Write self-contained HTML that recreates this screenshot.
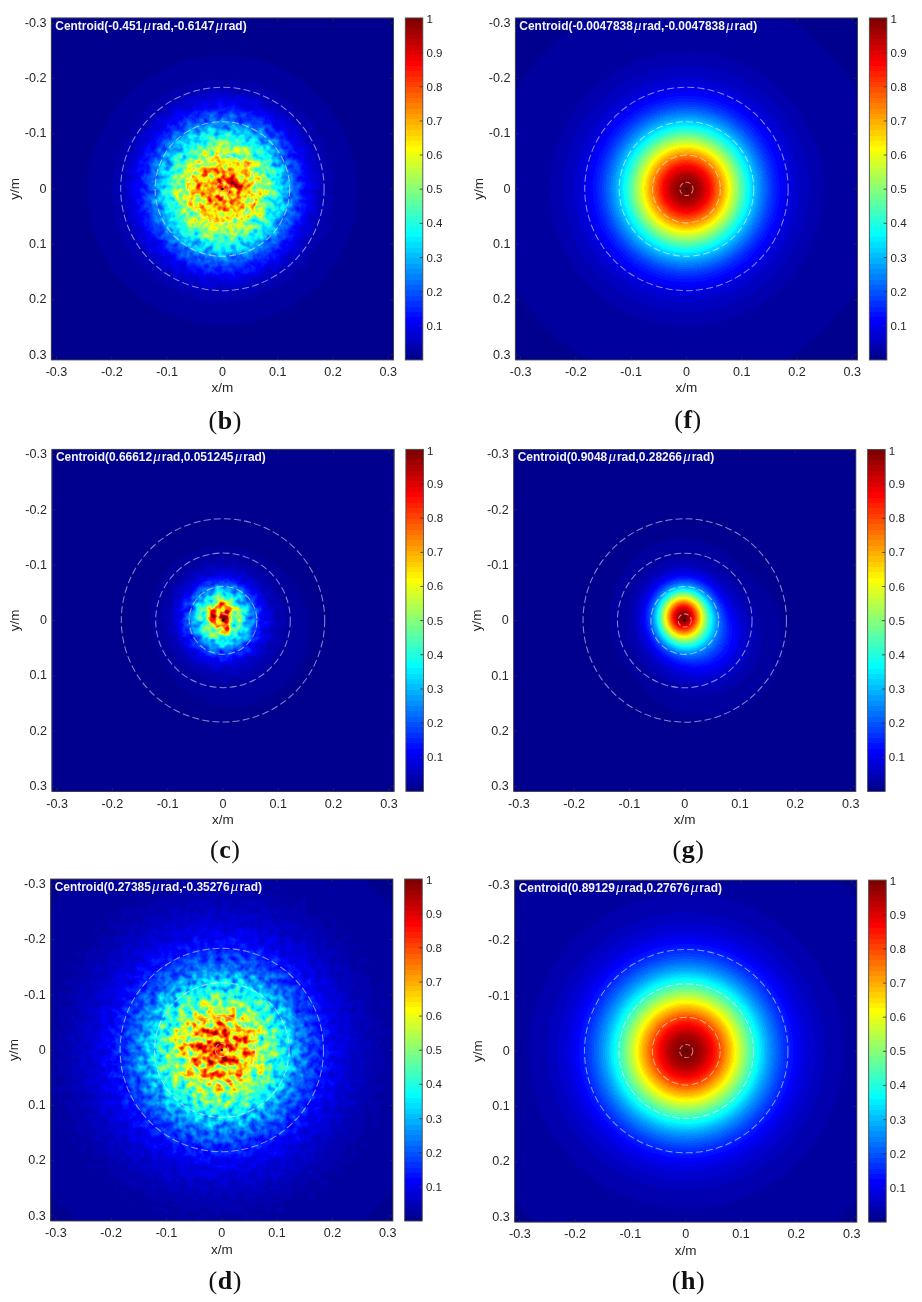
<!DOCTYPE html>
<html><head><meta charset="utf-8"><title>Figure</title>
<style>
html,body{margin:0;padding:0;background:#fff;}
svg{display:block;}
text{font-family:"Liberation Sans",sans-serif;}
.tk{font-size:12.6px;fill:#262626;}
.ck{font-size:11.5px;fill:#262626;}
.lb{font-size:13.5px;fill:#262626;}
.ti{font-size:11.94px;font-weight:bold;fill:#f4f4f4;}
.mu{font-family:"Liberation Serif","DejaVu Serif",serif;font-style:italic;font-weight:normal;font-size:15px;}
.cap{font-family:"Liberation Serif",serif;font-size:26px;fill:#111;letter-spacing:0.5px;}
.cap tspan{font-weight:bold;}
</style></head><body>
<svg width="922" height="1302" viewBox="0 0 922 1302">
<defs>
<linearGradient id="cb" x1="0" y1="1" x2="0" y2="0">
<stop offset="0.0000" stop-color="rgb(0,0,143)"/><stop offset="0.0156" stop-color="rgb(0,0,143)"/>
<stop offset="0.0156" stop-color="rgb(0,0,159)"/><stop offset="0.0312" stop-color="rgb(0,0,159)"/>
<stop offset="0.0312" stop-color="rgb(0,0,175)"/><stop offset="0.0469" stop-color="rgb(0,0,175)"/>
<stop offset="0.0469" stop-color="rgb(0,0,191)"/><stop offset="0.0625" stop-color="rgb(0,0,191)"/>
<stop offset="0.0625" stop-color="rgb(0,0,207)"/><stop offset="0.0781" stop-color="rgb(0,0,207)"/>
<stop offset="0.0781" stop-color="rgb(0,0,223)"/><stop offset="0.0938" stop-color="rgb(0,0,223)"/>
<stop offset="0.0938" stop-color="rgb(0,0,239)"/><stop offset="0.1094" stop-color="rgb(0,0,239)"/>
<stop offset="0.1094" stop-color="rgb(0,0,255)"/><stop offset="0.1250" stop-color="rgb(0,0,255)"/>
<stop offset="0.1250" stop-color="rgb(0,16,255)"/><stop offset="0.1406" stop-color="rgb(0,16,255)"/>
<stop offset="0.1406" stop-color="rgb(0,32,255)"/><stop offset="0.1562" stop-color="rgb(0,32,255)"/>
<stop offset="0.1562" stop-color="rgb(0,48,255)"/><stop offset="0.1719" stop-color="rgb(0,48,255)"/>
<stop offset="0.1719" stop-color="rgb(0,64,255)"/><stop offset="0.1875" stop-color="rgb(0,64,255)"/>
<stop offset="0.1875" stop-color="rgb(0,80,255)"/><stop offset="0.2031" stop-color="rgb(0,80,255)"/>
<stop offset="0.2031" stop-color="rgb(0,96,255)"/><stop offset="0.2188" stop-color="rgb(0,96,255)"/>
<stop offset="0.2188" stop-color="rgb(0,112,255)"/><stop offset="0.2344" stop-color="rgb(0,112,255)"/>
<stop offset="0.2344" stop-color="rgb(0,128,255)"/><stop offset="0.2500" stop-color="rgb(0,128,255)"/>
<stop offset="0.2500" stop-color="rgb(0,143,255)"/><stop offset="0.2656" stop-color="rgb(0,143,255)"/>
<stop offset="0.2656" stop-color="rgb(0,159,255)"/><stop offset="0.2812" stop-color="rgb(0,159,255)"/>
<stop offset="0.2812" stop-color="rgb(0,175,255)"/><stop offset="0.2969" stop-color="rgb(0,175,255)"/>
<stop offset="0.2969" stop-color="rgb(0,191,255)"/><stop offset="0.3125" stop-color="rgb(0,191,255)"/>
<stop offset="0.3125" stop-color="rgb(0,207,255)"/><stop offset="0.3281" stop-color="rgb(0,207,255)"/>
<stop offset="0.3281" stop-color="rgb(0,223,255)"/><stop offset="0.3438" stop-color="rgb(0,223,255)"/>
<stop offset="0.3438" stop-color="rgb(0,239,255)"/><stop offset="0.3594" stop-color="rgb(0,239,255)"/>
<stop offset="0.3594" stop-color="rgb(0,255,255)"/><stop offset="0.3750" stop-color="rgb(0,255,255)"/>
<stop offset="0.3750" stop-color="rgb(16,255,239)"/><stop offset="0.3906" stop-color="rgb(16,255,239)"/>
<stop offset="0.3906" stop-color="rgb(32,255,223)"/><stop offset="0.4062" stop-color="rgb(32,255,223)"/>
<stop offset="0.4062" stop-color="rgb(48,255,207)"/><stop offset="0.4219" stop-color="rgb(48,255,207)"/>
<stop offset="0.4219" stop-color="rgb(64,255,191)"/><stop offset="0.4375" stop-color="rgb(64,255,191)"/>
<stop offset="0.4375" stop-color="rgb(80,255,175)"/><stop offset="0.4531" stop-color="rgb(80,255,175)"/>
<stop offset="0.4531" stop-color="rgb(96,255,159)"/><stop offset="0.4688" stop-color="rgb(96,255,159)"/>
<stop offset="0.4688" stop-color="rgb(112,255,143)"/><stop offset="0.4844" stop-color="rgb(112,255,143)"/>
<stop offset="0.4844" stop-color="rgb(128,255,128)"/><stop offset="0.5000" stop-color="rgb(128,255,128)"/>
<stop offset="0.5000" stop-color="rgb(143,255,112)"/><stop offset="0.5156" stop-color="rgb(143,255,112)"/>
<stop offset="0.5156" stop-color="rgb(159,255,96)"/><stop offset="0.5312" stop-color="rgb(159,255,96)"/>
<stop offset="0.5312" stop-color="rgb(175,255,80)"/><stop offset="0.5469" stop-color="rgb(175,255,80)"/>
<stop offset="0.5469" stop-color="rgb(191,255,64)"/><stop offset="0.5625" stop-color="rgb(191,255,64)"/>
<stop offset="0.5625" stop-color="rgb(207,255,48)"/><stop offset="0.5781" stop-color="rgb(207,255,48)"/>
<stop offset="0.5781" stop-color="rgb(223,255,32)"/><stop offset="0.5938" stop-color="rgb(223,255,32)"/>
<stop offset="0.5938" stop-color="rgb(239,255,16)"/><stop offset="0.6094" stop-color="rgb(239,255,16)"/>
<stop offset="0.6094" stop-color="rgb(255,255,0)"/><stop offset="0.6250" stop-color="rgb(255,255,0)"/>
<stop offset="0.6250" stop-color="rgb(255,239,0)"/><stop offset="0.6406" stop-color="rgb(255,239,0)"/>
<stop offset="0.6406" stop-color="rgb(255,223,0)"/><stop offset="0.6562" stop-color="rgb(255,223,0)"/>
<stop offset="0.6562" stop-color="rgb(255,207,0)"/><stop offset="0.6719" stop-color="rgb(255,207,0)"/>
<stop offset="0.6719" stop-color="rgb(255,191,0)"/><stop offset="0.6875" stop-color="rgb(255,191,0)"/>
<stop offset="0.6875" stop-color="rgb(255,175,0)"/><stop offset="0.7031" stop-color="rgb(255,175,0)"/>
<stop offset="0.7031" stop-color="rgb(255,159,0)"/><stop offset="0.7188" stop-color="rgb(255,159,0)"/>
<stop offset="0.7188" stop-color="rgb(255,143,0)"/><stop offset="0.7344" stop-color="rgb(255,143,0)"/>
<stop offset="0.7344" stop-color="rgb(255,128,0)"/><stop offset="0.7500" stop-color="rgb(255,128,0)"/>
<stop offset="0.7500" stop-color="rgb(255,112,0)"/><stop offset="0.7656" stop-color="rgb(255,112,0)"/>
<stop offset="0.7656" stop-color="rgb(255,96,0)"/><stop offset="0.7812" stop-color="rgb(255,96,0)"/>
<stop offset="0.7812" stop-color="rgb(255,80,0)"/><stop offset="0.7969" stop-color="rgb(255,80,0)"/>
<stop offset="0.7969" stop-color="rgb(255,64,0)"/><stop offset="0.8125" stop-color="rgb(255,64,0)"/>
<stop offset="0.8125" stop-color="rgb(255,48,0)"/><stop offset="0.8281" stop-color="rgb(255,48,0)"/>
<stop offset="0.8281" stop-color="rgb(255,32,0)"/><stop offset="0.8438" stop-color="rgb(255,32,0)"/>
<stop offset="0.8438" stop-color="rgb(255,16,0)"/><stop offset="0.8594" stop-color="rgb(255,16,0)"/>
<stop offset="0.8594" stop-color="rgb(255,0,0)"/><stop offset="0.8750" stop-color="rgb(255,0,0)"/>
<stop offset="0.8750" stop-color="rgb(239,0,0)"/><stop offset="0.8906" stop-color="rgb(239,0,0)"/>
<stop offset="0.8906" stop-color="rgb(223,0,0)"/><stop offset="0.9062" stop-color="rgb(223,0,0)"/>
<stop offset="0.9062" stop-color="rgb(207,0,0)"/><stop offset="0.9219" stop-color="rgb(207,0,0)"/>
<stop offset="0.9219" stop-color="rgb(191,0,0)"/><stop offset="0.9375" stop-color="rgb(191,0,0)"/>
<stop offset="0.9375" stop-color="rgb(175,0,0)"/><stop offset="0.9531" stop-color="rgb(175,0,0)"/>
<stop offset="0.9531" stop-color="rgb(159,0,0)"/><stop offset="0.9688" stop-color="rgb(159,0,0)"/>
<stop offset="0.9688" stop-color="rgb(143,0,0)"/><stop offset="0.9844" stop-color="rgb(143,0,0)"/>
<stop offset="0.9844" stop-color="rgb(128,0,0)"/><stop offset="1.0000" stop-color="rgb(128,0,0)"/>
</linearGradient>
<radialGradient id="gb0" gradientUnits="userSpaceOnUse" cx="171.1" cy="172.5" r="240"><stop offset="0.0000" stop-color="rgb(181,181,181)"/><stop offset="0.0179" stop-color="rgb(181,181,181)"/><stop offset="0.0357" stop-color="rgb(180,180,180)"/><stop offset="0.0536" stop-color="rgb(178,178,178)"/><stop offset="0.0714" stop-color="rgb(174,174,174)"/><stop offset="0.0893" stop-color="rgb(169,169,169)"/><stop offset="0.1071" stop-color="rgb(163,163,163)"/><stop offset="0.1250" stop-color="rgb(155,155,155)"/><stop offset="0.1429" stop-color="rgb(147,147,147)"/><stop offset="0.1607" stop-color="rgb(137,137,137)"/><stop offset="0.1786" stop-color="rgb(126,126,126)"/><stop offset="0.1964" stop-color="rgb(114,114,114)"/><stop offset="0.2143" stop-color="rgb(103,103,103)"/><stop offset="0.2321" stop-color="rgb(91,91,91)"/><stop offset="0.2500" stop-color="rgb(79,79,79)"/><stop offset="0.2679" stop-color="rgb(68,68,68)"/><stop offset="0.2857" stop-color="rgb(57,57,57)"/><stop offset="0.3036" stop-color="rgb(48,48,48)"/><stop offset="0.3214" stop-color="rgb(39,39,39)"/><stop offset="0.3393" stop-color="rgb(32,32,32)"/><stop offset="0.3571" stop-color="rgb(25,25,25)"/><stop offset="0.3750" stop-color="rgb(19,19,19)"/><stop offset="0.3929" stop-color="rgb(15,15,15)"/><stop offset="0.4107" stop-color="rgb(11,11,11)"/><stop offset="0.4286" stop-color="rgb(8,8,8)"/><stop offset="0.4464" stop-color="rgb(6,6,6)"/><stop offset="0.4643" stop-color="rgb(4,4,4)"/><stop offset="0.4821" stop-color="rgb(3,3,3)"/><stop offset="0.5000" stop-color="rgb(2,2,2)"/><stop offset="0.5179" stop-color="rgb(1,1,1)"/><stop offset="0.5357" stop-color="rgb(1,1,1)"/><stop offset="0.5536" stop-color="rgb(1,1,1)"/><stop offset="0.5714" stop-color="rgb(0,0,0)"/><stop offset="0.5893" stop-color="rgb(0,0,0)"/><stop offset="0.6071" stop-color="rgb(0,0,0)"/><stop offset="0.6250" stop-color="rgb(0,0,0)"/><stop offset="0.6429" stop-color="rgb(0,0,0)"/><stop offset="0.6607" stop-color="rgb(0,0,0)"/><stop offset="0.6786" stop-color="rgb(0,0,0)"/><stop offset="0.6964" stop-color="rgb(0,0,0)"/><stop offset="0.7143" stop-color="rgb(0,0,0)"/><stop offset="0.7321" stop-color="rgb(0,0,0)"/><stop offset="0.7500" stop-color="rgb(0,0,0)"/><stop offset="0.7679" stop-color="rgb(0,0,0)"/><stop offset="0.7857" stop-color="rgb(0,0,0)"/><stop offset="0.8036" stop-color="rgb(0,0,0)"/><stop offset="0.8214" stop-color="rgb(0,0,0)"/><stop offset="0.8393" stop-color="rgb(0,0,0)"/><stop offset="0.8571" stop-color="rgb(0,0,0)"/><stop offset="0.8750" stop-color="rgb(0,0,0)"/><stop offset="0.8929" stop-color="rgb(0,0,0)"/><stop offset="0.9107" stop-color="rgb(0,0,0)"/><stop offset="0.9286" stop-color="rgb(0,0,0)"/><stop offset="0.9464" stop-color="rgb(0,0,0)"/><stop offset="0.9643" stop-color="rgb(0,0,0)"/><stop offset="0.9821" stop-color="rgb(0,0,0)"/><stop offset="1.0000" stop-color="rgb(0,0,0)"/></radialGradient>
<radialGradient id="gb1" gradientUnits="userSpaceOnUse" cx="180.1" cy="166.0" r="25" gradientTransform="translate(180.1,166.0) scale(1.800,0.800) translate(-180.1,-166.0)"><stop offset="0.0000" stop-color="#fff" stop-opacity="0.8000"/><stop offset="0.0312" stop-color="#fff" stop-opacity="0.7839"/><stop offset="0.0625" stop-color="#fff" stop-opacity="0.7375"/><stop offset="0.0938" stop-color="#fff" stop-opacity="0.6661"/><stop offset="0.1250" stop-color="#fff" stop-opacity="0.5777"/><stop offset="0.1562" stop-color="#fff" stop-opacity="0.4811"/><stop offset="0.1875" stop-color="#fff" stop-opacity="0.3846"/><stop offset="0.2188" stop-color="#fff" stop-opacity="0.2952"/><stop offset="0.2500" stop-color="#fff" stop-opacity="0.2176"/><stop offset="0.2812" stop-color="#fff" stop-opacity="0.1540"/><stop offset="0.3125" stop-color="#fff" stop-opacity="0.1046"/><stop offset="0.3438" stop-color="#fff" stop-opacity="0.0682"/><stop offset="0.3750" stop-color="#fff" stop-opacity="0.0427"/><stop offset="0.4062" stop-color="#fff" stop-opacity="0.0257"/><stop offset="0.4375" stop-color="#fff" stop-opacity="0.0148"/><stop offset="0.4688" stop-color="#fff" stop-opacity="0.0082"/><stop offset="0.5000" stop-color="#fff" stop-opacity="0.0044"/><stop offset="0.5312" stop-color="#fff" stop-opacity="0.0022"/><stop offset="0.5625" stop-color="#fff" stop-opacity="0.0011"/><stop offset="0.5938" stop-color="#fff" stop-opacity="0.0005"/><stop offset="0.6250" stop-color="#fff" stop-opacity="0.0002"/><stop offset="0.6562" stop-color="#fff" stop-opacity="0.0001"/><stop offset="0.6875" stop-color="#fff" stop-opacity="0.0000"/><stop offset="0.7188" stop-color="#fff" stop-opacity="0.0000"/><stop offset="0.7500" stop-color="#fff" stop-opacity="0.0000"/><stop offset="0.7812" stop-color="#fff" stop-opacity="0.0000"/><stop offset="0.8125" stop-color="#fff" stop-opacity="0.0000"/><stop offset="0.8438" stop-color="#fff" stop-opacity="0.0000"/><stop offset="0.8750" stop-color="#fff" stop-opacity="0.0000"/><stop offset="0.9062" stop-color="#fff" stop-opacity="0.0000"/><stop offset="0.9375" stop-color="#fff" stop-opacity="0.0000"/><stop offset="0.9688" stop-color="#fff" stop-opacity="0.0000"/><stop offset="1.0000" stop-color="#fff" stop-opacity="0.0000"/></radialGradient>
<filter id="jb" filterUnits="userSpaceOnUse" x="0" y="0" width="342.2" height="342.0" color-interpolation-filters="sRGB">
<feTurbulence type="fractalNoise" baseFrequency="0.140" numOctaves="2" seed="7" result="n"/>
<feColorMatrix in="n" type="matrix" values="1 0 0 0 0 1 0 0 0 0 1 0 0 0 0 0 0 0 0 1" result="ng0"/><feGaussianBlur in="ng0" stdDeviation="0.5" result="ng"/>
<feComposite in="SourceGraphic" in2="ng" operator="arithmetic" k1="1.120" k2="0.440" k3="0" k4="0.012" result="m"/>
<feComponentTransfer in="m"><feFuncR type="discrete" tableValues="0.000 0.000 0.000 0.000 0.000 0.000 0.000 0.000 0.000 0.000 0.000 0.000 0.000 0.000 0.000 0.000 0.000 0.000 0.000 0.000 0.000 0.000 0.000 0.000 0.062 0.125 0.188 0.250 0.312 0.375 0.438 0.500 0.562 0.625 0.688 0.750 0.812 0.875 0.938 1.000 1.000 1.000 1.000 1.000 1.000 1.000 1.000 1.000 1.000 1.000 1.000 1.000 1.000 1.000 1.000 1.000 0.938 0.875 0.812 0.750 0.688 0.625 0.562 0.500"/><feFuncG type="discrete" tableValues="0.000 0.000 0.000 0.000 0.000 0.000 0.000 0.000 0.062 0.125 0.188 0.250 0.312 0.375 0.438 0.500 0.562 0.625 0.688 0.750 0.812 0.875 0.938 1.000 1.000 1.000 1.000 1.000 1.000 1.000 1.000 1.000 1.000 1.000 1.000 1.000 1.000 1.000 1.000 1.000 0.938 0.875 0.812 0.750 0.688 0.625 0.562 0.500 0.438 0.375 0.312 0.250 0.188 0.125 0.062 0.000 0.000 0.000 0.000 0.000 0.000 0.000 0.000 0.000"/><feFuncB type="discrete" tableValues="0.562 0.625 0.688 0.750 0.812 0.875 0.938 1.000 1.000 1.000 1.000 1.000 1.000 1.000 1.000 1.000 1.000 1.000 1.000 1.000 1.000 1.000 1.000 1.000 0.938 0.875 0.812 0.750 0.688 0.625 0.562 0.500 0.438 0.375 0.312 0.250 0.188 0.125 0.062 0.000 0.000 0.000 0.000 0.000 0.000 0.000 0.000 0.000 0.000 0.000 0.000 0.000 0.000 0.000 0.000 0.000 0.000 0.000 0.000 0.000 0.000 0.000 0.000 0.000"/></feComponentTransfer></filter>
<radialGradient id="gf0" gradientUnits="userSpaceOnUse" cx="171.1" cy="171.0" r="260"><stop offset="0.0000" stop-color="rgb(255,255,255)"/><stop offset="0.0179" stop-color="rgb(254,254,254)"/><stop offset="0.0357" stop-color="rgb(249,249,249)"/><stop offset="0.0536" stop-color="rgb(242,242,242)"/><stop offset="0.0714" stop-color="rgb(232,232,232)"/><stop offset="0.0893" stop-color="rgb(221,221,221)"/><stop offset="0.1071" stop-color="rgb(207,207,207)"/><stop offset="0.1250" stop-color="rgb(192,192,192)"/><stop offset="0.1429" stop-color="rgb(177,177,177)"/><stop offset="0.1607" stop-color="rgb(161,161,161)"/><stop offset="0.1786" stop-color="rgb(144,144,144)"/><stop offset="0.1964" stop-color="rgb(129,129,129)"/><stop offset="0.2143" stop-color="rgb(113,113,113)"/><stop offset="0.2321" stop-color="rgb(99,99,99)"/><stop offset="0.2500" stop-color="rgb(86,86,86)"/><stop offset="0.2679" stop-color="rgb(74,74,74)"/><stop offset="0.2857" stop-color="rgb(63,63,63)"/><stop offset="0.3036" stop-color="rgb(54,54,54)"/><stop offset="0.3214" stop-color="rgb(45,45,45)"/><stop offset="0.3393" stop-color="rgb(38,38,38)"/><stop offset="0.3571" stop-color="rgb(32,32,32)"/><stop offset="0.3750" stop-color="rgb(27,27,27)"/><stop offset="0.3929" stop-color="rgb(23,23,23)"/><stop offset="0.4107" stop-color="rgb(19,19,19)"/><stop offset="0.4286" stop-color="rgb(16,16,16)"/><stop offset="0.4464" stop-color="rgb(14,14,14)"/><stop offset="0.4643" stop-color="rgb(12,12,12)"/><stop offset="0.4821" stop-color="rgb(11,11,11)"/><stop offset="0.5000" stop-color="rgb(9,9,9)"/><stop offset="0.5179" stop-color="rgb(8,8,8)"/><stop offset="0.5357" stop-color="rgb(7,7,7)"/><stop offset="0.5536" stop-color="rgb(7,7,7)"/><stop offset="0.5714" stop-color="rgb(6,6,6)"/><stop offset="0.5893" stop-color="rgb(6,6,6)"/><stop offset="0.6071" stop-color="rgb(5,5,5)"/><stop offset="0.6250" stop-color="rgb(5,5,5)"/><stop offset="0.6429" stop-color="rgb(4,4,4)"/><stop offset="0.6607" stop-color="rgb(4,4,4)"/><stop offset="0.6786" stop-color="rgb(4,4,4)"/><stop offset="0.6964" stop-color="rgb(4,4,4)"/><stop offset="0.7143" stop-color="rgb(4,4,4)"/><stop offset="0.7321" stop-color="rgb(4,4,4)"/><stop offset="0.7500" stop-color="rgb(4,4,4)"/><stop offset="0.7679" stop-color="rgb(3,3,3)"/><stop offset="0.7857" stop-color="rgb(3,3,3)"/><stop offset="0.8036" stop-color="rgb(3,3,3)"/><stop offset="0.8214" stop-color="rgb(3,3,3)"/><stop offset="0.8393" stop-color="rgb(3,3,3)"/><stop offset="0.8571" stop-color="rgb(3,3,3)"/><stop offset="0.8750" stop-color="rgb(3,3,3)"/><stop offset="0.8929" stop-color="rgb(3,3,3)"/><stop offset="0.9107" stop-color="rgb(3,3,3)"/><stop offset="0.9286" stop-color="rgb(3,3,3)"/><stop offset="0.9464" stop-color="rgb(3,3,3)"/><stop offset="0.9643" stop-color="rgb(3,3,3)"/><stop offset="0.9821" stop-color="rgb(3,3,3)"/><stop offset="1.0000" stop-color="rgb(3,3,3)"/></radialGradient>
<filter id="jf" filterUnits="userSpaceOnUse" x="0" y="0" width="342.2" height="342.0" color-interpolation-filters="sRGB">
<feComponentTransfer><feFuncR type="discrete" tableValues="0.000 0.000 0.000 0.000 0.000 0.000 0.000 0.000 0.000 0.000 0.000 0.000 0.000 0.000 0.000 0.000 0.000 0.000 0.000 0.000 0.000 0.000 0.000 0.000 0.062 0.125 0.188 0.250 0.312 0.375 0.438 0.500 0.562 0.625 0.688 0.750 0.812 0.875 0.938 1.000 1.000 1.000 1.000 1.000 1.000 1.000 1.000 1.000 1.000 1.000 1.000 1.000 1.000 1.000 1.000 1.000 0.938 0.875 0.812 0.750 0.688 0.625 0.562 0.500"/><feFuncG type="discrete" tableValues="0.000 0.000 0.000 0.000 0.000 0.000 0.000 0.000 0.062 0.125 0.188 0.250 0.312 0.375 0.438 0.500 0.562 0.625 0.688 0.750 0.812 0.875 0.938 1.000 1.000 1.000 1.000 1.000 1.000 1.000 1.000 1.000 1.000 1.000 1.000 1.000 1.000 1.000 1.000 1.000 0.938 0.875 0.812 0.750 0.688 0.625 0.562 0.500 0.438 0.375 0.312 0.250 0.188 0.125 0.062 0.000 0.000 0.000 0.000 0.000 0.000 0.000 0.000 0.000"/><feFuncB type="discrete" tableValues="0.562 0.625 0.688 0.750 0.812 0.875 0.938 1.000 1.000 1.000 1.000 1.000 1.000 1.000 1.000 1.000 1.000 1.000 1.000 1.000 1.000 1.000 1.000 1.000 0.938 0.875 0.812 0.750 0.688 0.625 0.562 0.500 0.438 0.375 0.312 0.250 0.188 0.125 0.062 0.000 0.000 0.000 0.000 0.000 0.000 0.000 0.000 0.000 0.000 0.000 0.000 0.000 0.000 0.000 0.000 0.000 0.000 0.000 0.000 0.000 0.000 0.000 0.000 0.000"/></feComponentTransfer></filter>
<radialGradient id="gc0" gradientUnits="userSpaceOnUse" cx="169.1" cy="168.0" r="130"><stop offset="0.0000" stop-color="rgb(158,158,158)"/><stop offset="0.0179" stop-color="rgb(157,157,157)"/><stop offset="0.0357" stop-color="rgb(154,154,154)"/><stop offset="0.0536" stop-color="rgb(149,149,149)"/><stop offset="0.0714" stop-color="rgb(143,143,143)"/><stop offset="0.0893" stop-color="rgb(135,135,135)"/><stop offset="0.1071" stop-color="rgb(126,126,126)"/><stop offset="0.1250" stop-color="rgb(116,116,116)"/><stop offset="0.1429" stop-color="rgb(105,105,105)"/><stop offset="0.1607" stop-color="rgb(95,95,95)"/><stop offset="0.1786" stop-color="rgb(84,84,84)"/><stop offset="0.1964" stop-color="rgb(73,73,73)"/><stop offset="0.2143" stop-color="rgb(63,63,63)"/><stop offset="0.2321" stop-color="rgb(54,54,54)"/><stop offset="0.2500" stop-color="rgb(46,46,46)"/><stop offset="0.2679" stop-color="rgb(38,38,38)"/><stop offset="0.2857" stop-color="rgb(31,31,31)"/><stop offset="0.3036" stop-color="rgb(25,25,25)"/><stop offset="0.3214" stop-color="rgb(20,20,20)"/><stop offset="0.3393" stop-color="rgb(16,16,16)"/><stop offset="0.3571" stop-color="rgb(13,13,13)"/><stop offset="0.3750" stop-color="rgb(10,10,10)"/><stop offset="0.3929" stop-color="rgb(7,7,7)"/><stop offset="0.4107" stop-color="rgb(6,6,6)"/><stop offset="0.4286" stop-color="rgb(4,4,4)"/><stop offset="0.4464" stop-color="rgb(3,3,3)"/><stop offset="0.4643" stop-color="rgb(2,2,2)"/><stop offset="0.4821" stop-color="rgb(2,2,2)"/><stop offset="0.5000" stop-color="rgb(1,1,1)"/><stop offset="0.5179" stop-color="rgb(1,1,1)"/><stop offset="0.5357" stop-color="rgb(1,1,1)"/><stop offset="0.5536" stop-color="rgb(0,0,0)"/><stop offset="0.5714" stop-color="rgb(0,0,0)"/><stop offset="0.5893" stop-color="rgb(0,0,0)"/><stop offset="0.6071" stop-color="rgb(0,0,0)"/><stop offset="0.6250" stop-color="rgb(0,0,0)"/><stop offset="0.6429" stop-color="rgb(0,0,0)"/><stop offset="0.6607" stop-color="rgb(0,0,0)"/><stop offset="0.6786" stop-color="rgb(0,0,0)"/><stop offset="0.6964" stop-color="rgb(0,0,0)"/><stop offset="0.7143" stop-color="rgb(0,0,0)"/><stop offset="0.7321" stop-color="rgb(0,0,0)"/><stop offset="0.7500" stop-color="rgb(0,0,0)"/><stop offset="0.7679" stop-color="rgb(0,0,0)"/><stop offset="0.7857" stop-color="rgb(0,0,0)"/><stop offset="0.8036" stop-color="rgb(0,0,0)"/><stop offset="0.8214" stop-color="rgb(0,0,0)"/><stop offset="0.8393" stop-color="rgb(0,0,0)"/><stop offset="0.8571" stop-color="rgb(0,0,0)"/><stop offset="0.8750" stop-color="rgb(0,0,0)"/><stop offset="0.8929" stop-color="rgb(0,0,0)"/><stop offset="0.9107" stop-color="rgb(0,0,0)"/><stop offset="0.9286" stop-color="rgb(0,0,0)"/><stop offset="0.9464" stop-color="rgb(0,0,0)"/><stop offset="0.9643" stop-color="rgb(0,0,0)"/><stop offset="0.9821" stop-color="rgb(0,0,0)"/><stop offset="1.0000" stop-color="rgb(0,0,0)"/></radialGradient>
<radialGradient id="gc1" gradientUnits="userSpaceOnUse" cx="169.1" cy="166.5" r="45" gradientTransform="translate(169.1,166.5) scale(0.850,1.200) translate(-169.1,-166.5)"><stop offset="0.0000" stop-color="#fff" stop-opacity="0.5000"/><stop offset="0.0312" stop-color="#fff" stop-opacity="0.4935"/><stop offset="0.0625" stop-color="#fff" stop-opacity="0.4743"/><stop offset="0.0938" stop-color="#fff" stop-opacity="0.4441"/><stop offset="0.1250" stop-color="#fff" stop-opacity="0.4049"/><stop offset="0.1562" stop-color="#fff" stop-opacity="0.3596"/><stop offset="0.1875" stop-color="#fff" stop-opacity="0.3111"/><stop offset="0.2188" stop-color="#fff" stop-opacity="0.2621"/><stop offset="0.2500" stop-color="#fff" stop-opacity="0.2150"/><stop offset="0.2812" stop-color="#fff" stop-opacity="0.1719"/><stop offset="0.3125" stop-color="#fff" stop-opacity="0.1338"/><stop offset="0.3438" stop-color="#fff" stop-opacity="0.1014"/><stop offset="0.3750" stop-color="#fff" stop-opacity="0.0749"/><stop offset="0.4062" stop-color="#fff" stop-opacity="0.0539"/><stop offset="0.4375" stop-color="#fff" stop-opacity="0.0377"/><stop offset="0.4688" stop-color="#fff" stop-opacity="0.0257"/><stop offset="0.5000" stop-color="#fff" stop-opacity="0.0171"/><stop offset="0.5312" stop-color="#fff" stop-opacity="0.0111"/><stop offset="0.5625" stop-color="#fff" stop-opacity="0.0070"/><stop offset="0.5938" stop-color="#fff" stop-opacity="0.0043"/><stop offset="0.6250" stop-color="#fff" stop-opacity="0.0026"/><stop offset="0.6562" stop-color="#fff" stop-opacity="0.0015"/><stop offset="0.6875" stop-color="#fff" stop-opacity="0.0008"/><stop offset="0.7188" stop-color="#fff" stop-opacity="0.0005"/><stop offset="0.7500" stop-color="#fff" stop-opacity="0.0003"/><stop offset="0.7812" stop-color="#fff" stop-opacity="0.0001"/><stop offset="0.8125" stop-color="#fff" stop-opacity="0.0001"/><stop offset="0.8438" stop-color="#fff" stop-opacity="0.0000"/><stop offset="0.8750" stop-color="#fff" stop-opacity="0.0000"/><stop offset="0.9062" stop-color="#fff" stop-opacity="0.0000"/><stop offset="0.9375" stop-color="#fff" stop-opacity="0.0000"/><stop offset="0.9688" stop-color="#fff" stop-opacity="0.0000"/><stop offset="1.0000" stop-color="#fff" stop-opacity="0.0000"/></radialGradient>
<radialGradient id="gc2" gradientUnits="userSpaceOnUse" cx="180.1" cy="180.0" r="130"><stop offset="0.0000" stop-color="#fff" stop-opacity="0.0600"/><stop offset="0.0312" stop-color="#fff" stop-opacity="0.0595"/><stop offset="0.0625" stop-color="#fff" stop-opacity="0.0578"/><stop offset="0.0938" stop-color="#fff" stop-opacity="0.0552"/><stop offset="0.1250" stop-color="#fff" stop-opacity="0.0518"/><stop offset="0.1562" stop-color="#fff" stop-opacity="0.0477"/><stop offset="0.1875" stop-color="#fff" stop-opacity="0.0431"/><stop offset="0.2188" stop-color="#fff" stop-opacity="0.0383"/><stop offset="0.2500" stop-color="#fff" stop-opacity="0.0334"/><stop offset="0.2812" stop-color="#fff" stop-opacity="0.0286"/><stop offset="0.3125" stop-color="#fff" stop-opacity="0.0240"/><stop offset="0.3438" stop-color="#fff" stop-opacity="0.0198"/><stop offset="0.3750" stop-color="#fff" stop-opacity="0.0160"/><stop offset="0.4062" stop-color="#fff" stop-opacity="0.0127"/><stop offset="0.4375" stop-color="#fff" stop-opacity="0.0099"/><stop offset="0.4688" stop-color="#fff" stop-opacity="0.0076"/><stop offset="0.5000" stop-color="#fff" stop-opacity="0.0057"/><stop offset="0.5312" stop-color="#fff" stop-opacity="0.0042"/><stop offset="0.5625" stop-color="#fff" stop-opacity="0.0031"/><stop offset="0.5938" stop-color="#fff" stop-opacity="0.0022"/><stop offset="0.6250" stop-color="#fff" stop-opacity="0.0015"/><stop offset="0.6562" stop-color="#fff" stop-opacity="0.0011"/><stop offset="0.6875" stop-color="#fff" stop-opacity="0.0007"/><stop offset="0.7188" stop-color="#fff" stop-opacity="0.0005"/><stop offset="0.7500" stop-color="#fff" stop-opacity="0.0003"/><stop offset="0.7812" stop-color="#fff" stop-opacity="0.0002"/><stop offset="0.8125" stop-color="#fff" stop-opacity="0.0001"/><stop offset="0.8438" stop-color="#fff" stop-opacity="0.0001"/><stop offset="0.8750" stop-color="#fff" stop-opacity="0.0000"/><stop offset="0.9062" stop-color="#fff" stop-opacity="0.0000"/><stop offset="0.9375" stop-color="#fff" stop-opacity="0.0000"/><stop offset="0.9688" stop-color="#fff" stop-opacity="0.0000"/><stop offset="1.0000" stop-color="#fff" stop-opacity="0.0000"/></radialGradient>
<filter id="jc" filterUnits="userSpaceOnUse" x="0" y="0" width="342.2" height="342.0" color-interpolation-filters="sRGB">
<feTurbulence type="fractalNoise" baseFrequency="0.140" numOctaves="2" seed="11" result="n"/>
<feColorMatrix in="n" type="matrix" values="1 0 0 0 0 1 0 0 0 0 1 0 0 0 0 0 0 0 0 1" result="ng0"/><feGaussianBlur in="ng0" stdDeviation="0.5" result="ng"/>
<feComposite in="SourceGraphic" in2="ng" operator="arithmetic" k1="1.240" k2="0.380" k3="0" k4="0.012" result="m"/>
<feComponentTransfer in="m"><feFuncR type="discrete" tableValues="0.000 0.000 0.000 0.000 0.000 0.000 0.000 0.000 0.000 0.000 0.000 0.000 0.000 0.000 0.000 0.000 0.000 0.000 0.000 0.000 0.000 0.000 0.000 0.000 0.062 0.125 0.188 0.250 0.312 0.375 0.438 0.500 0.562 0.625 0.688 0.750 0.812 0.875 0.938 1.000 1.000 1.000 1.000 1.000 1.000 1.000 1.000 1.000 1.000 1.000 1.000 1.000 1.000 1.000 1.000 1.000 0.938 0.875 0.812 0.750 0.688 0.625 0.562 0.500"/><feFuncG type="discrete" tableValues="0.000 0.000 0.000 0.000 0.000 0.000 0.000 0.000 0.062 0.125 0.188 0.250 0.312 0.375 0.438 0.500 0.562 0.625 0.688 0.750 0.812 0.875 0.938 1.000 1.000 1.000 1.000 1.000 1.000 1.000 1.000 1.000 1.000 1.000 1.000 1.000 1.000 1.000 1.000 1.000 0.938 0.875 0.812 0.750 0.688 0.625 0.562 0.500 0.438 0.375 0.312 0.250 0.188 0.125 0.062 0.000 0.000 0.000 0.000 0.000 0.000 0.000 0.000 0.000"/><feFuncB type="discrete" tableValues="0.562 0.625 0.688 0.750 0.812 0.875 0.938 1.000 1.000 1.000 1.000 1.000 1.000 1.000 1.000 1.000 1.000 1.000 1.000 1.000 1.000 1.000 1.000 1.000 0.938 0.875 0.812 0.750 0.688 0.625 0.562 0.500 0.438 0.375 0.312 0.250 0.188 0.125 0.062 0.000 0.000 0.000 0.000 0.000 0.000 0.000 0.000 0.000 0.000 0.000 0.000 0.000 0.000 0.000 0.000 0.000 0.000 0.000 0.000 0.000 0.000 0.000 0.000 0.000"/></feComponentTransfer></filter>
<radialGradient id="gg0" gradientUnits="userSpaceOnUse" cx="169.6" cy="167.5" r="150" gradientTransform="translate(169.6,167.5) scale(1.000,1.070) translate(-169.6,-167.5)"><stop offset="0.0000" stop-color="rgb(255,255,255)"/><stop offset="0.0179" stop-color="rgb(252,252,252)"/><stop offset="0.0357" stop-color="rgb(243,243,243)"/><stop offset="0.0536" stop-color="rgb(229,229,229)"/><stop offset="0.0714" stop-color="rgb(211,211,211)"/><stop offset="0.0893" stop-color="rgb(190,190,190)"/><stop offset="0.1071" stop-color="rgb(167,167,167)"/><stop offset="0.1250" stop-color="rgb(143,143,143)"/><stop offset="0.1429" stop-color="rgb(121,121,121)"/><stop offset="0.1607" stop-color="rgb(100,100,100)"/><stop offset="0.1786" stop-color="rgb(81,81,81)"/><stop offset="0.1964" stop-color="rgb(65,65,65)"/><stop offset="0.2143" stop-color="rgb(51,51,51)"/><stop offset="0.2321" stop-color="rgb(40,40,40)"/><stop offset="0.2500" stop-color="rgb(31,31,31)"/><stop offset="0.2679" stop-color="rgb(24,24,24)"/><stop offset="0.2857" stop-color="rgb(19,19,19)"/><stop offset="0.3036" stop-color="rgb(15,15,15)"/><stop offset="0.3214" stop-color="rgb(12,12,12)"/><stop offset="0.3393" stop-color="rgb(9,9,9)"/><stop offset="0.3571" stop-color="rgb(8,8,8)"/><stop offset="0.3750" stop-color="rgb(7,7,7)"/><stop offset="0.3929" stop-color="rgb(6,6,6)"/><stop offset="0.4107" stop-color="rgb(5,5,5)"/><stop offset="0.4286" stop-color="rgb(4,4,4)"/><stop offset="0.4464" stop-color="rgb(4,4,4)"/><stop offset="0.4643" stop-color="rgb(4,4,4)"/><stop offset="0.4821" stop-color="rgb(4,4,4)"/><stop offset="0.5000" stop-color="rgb(3,3,3)"/><stop offset="0.5179" stop-color="rgb(3,3,3)"/><stop offset="0.5357" stop-color="rgb(3,3,3)"/><stop offset="0.5536" stop-color="rgb(3,3,3)"/><stop offset="0.5714" stop-color="rgb(3,3,3)"/><stop offset="0.5893" stop-color="rgb(3,3,3)"/><stop offset="0.6071" stop-color="rgb(3,3,3)"/><stop offset="0.6250" stop-color="rgb(3,3,3)"/><stop offset="0.6429" stop-color="rgb(3,3,3)"/><stop offset="0.6607" stop-color="rgb(3,3,3)"/><stop offset="0.6786" stop-color="rgb(3,3,3)"/><stop offset="0.6964" stop-color="rgb(3,3,3)"/><stop offset="0.7143" stop-color="rgb(3,3,3)"/><stop offset="0.7321" stop-color="rgb(3,3,3)"/><stop offset="0.7500" stop-color="rgb(3,3,3)"/><stop offset="0.7679" stop-color="rgb(3,3,3)"/><stop offset="0.7857" stop-color="rgb(3,3,3)"/><stop offset="0.8036" stop-color="rgb(3,3,3)"/><stop offset="0.8214" stop-color="rgb(3,3,3)"/><stop offset="0.8393" stop-color="rgb(3,3,3)"/><stop offset="0.8571" stop-color="rgb(3,3,3)"/><stop offset="0.8750" stop-color="rgb(3,3,3)"/><stop offset="0.8929" stop-color="rgb(3,3,3)"/><stop offset="0.9107" stop-color="rgb(3,3,3)"/><stop offset="0.9286" stop-color="rgb(3,3,3)"/><stop offset="0.9464" stop-color="rgb(3,3,3)"/><stop offset="0.9643" stop-color="rgb(3,3,3)"/><stop offset="0.9821" stop-color="rgb(3,3,3)"/><stop offset="1.0000" stop-color="rgb(3,3,3)"/></radialGradient>
<radialGradient id="gg1" gradientUnits="userSpaceOnUse" cx="191.1" cy="189.0" r="130"><stop offset="0.0000" stop-color="#fff" stop-opacity="0.1500"/><stop offset="0.0312" stop-color="#fff" stop-opacity="0.1484"/><stop offset="0.0625" stop-color="#fff" stop-opacity="0.1435"/><stop offset="0.0938" stop-color="#fff" stop-opacity="0.1359"/><stop offset="0.1250" stop-color="#fff" stop-opacity="0.1258"/><stop offset="0.1562" stop-color="#fff" stop-opacity="0.1139"/><stop offset="0.1875" stop-color="#fff" stop-opacity="0.1009"/><stop offset="0.2188" stop-color="#fff" stop-opacity="0.0875"/><stop offset="0.2500" stop-color="#fff" stop-opacity="0.0742"/><stop offset="0.2812" stop-color="#fff" stop-opacity="0.0615"/><stop offset="0.3125" stop-color="#fff" stop-opacity="0.0499"/><stop offset="0.3438" stop-color="#fff" stop-opacity="0.0396"/><stop offset="0.3750" stop-color="#fff" stop-opacity="0.0308"/><stop offset="0.4062" stop-color="#fff" stop-opacity="0.0234"/><stop offset="0.4375" stop-color="#fff" stop-opacity="0.0174"/><stop offset="0.4688" stop-color="#fff" stop-opacity="0.0126"/><stop offset="0.5000" stop-color="#fff" stop-opacity="0.0090"/><stop offset="0.5312" stop-color="#fff" stop-opacity="0.0062"/><stop offset="0.5625" stop-color="#fff" stop-opacity="0.0042"/><stop offset="0.5938" stop-color="#fff" stop-opacity="0.0028"/><stop offset="0.6250" stop-color="#fff" stop-opacity="0.0018"/><stop offset="0.6562" stop-color="#fff" stop-opacity="0.0012"/><stop offset="0.6875" stop-color="#fff" stop-opacity="0.0007"/><stop offset="0.7188" stop-color="#fff" stop-opacity="0.0004"/><stop offset="0.7500" stop-color="#fff" stop-opacity="0.0003"/><stop offset="0.7812" stop-color="#fff" stop-opacity="0.0002"/><stop offset="0.8125" stop-color="#fff" stop-opacity="0.0001"/><stop offset="0.8438" stop-color="#fff" stop-opacity="0.0000"/><stop offset="0.8750" stop-color="#fff" stop-opacity="0.0000"/><stop offset="0.9062" stop-color="#fff" stop-opacity="0.0000"/><stop offset="0.9375" stop-color="#fff" stop-opacity="0.0000"/><stop offset="0.9688" stop-color="#fff" stop-opacity="0.0000"/><stop offset="1.0000" stop-color="#fff" stop-opacity="0.0000"/></radialGradient>
<filter id="jg" filterUnits="userSpaceOnUse" x="0" y="0" width="342.2" height="342.0" color-interpolation-filters="sRGB">
<feComponentTransfer><feFuncR type="discrete" tableValues="0.000 0.000 0.000 0.000 0.000 0.000 0.000 0.000 0.000 0.000 0.000 0.000 0.000 0.000 0.000 0.000 0.000 0.000 0.000 0.000 0.000 0.000 0.000 0.000 0.062 0.125 0.188 0.250 0.312 0.375 0.438 0.500 0.562 0.625 0.688 0.750 0.812 0.875 0.938 1.000 1.000 1.000 1.000 1.000 1.000 1.000 1.000 1.000 1.000 1.000 1.000 1.000 1.000 1.000 1.000 1.000 0.938 0.875 0.812 0.750 0.688 0.625 0.562 0.500"/><feFuncG type="discrete" tableValues="0.000 0.000 0.000 0.000 0.000 0.000 0.000 0.000 0.062 0.125 0.188 0.250 0.312 0.375 0.438 0.500 0.562 0.625 0.688 0.750 0.812 0.875 0.938 1.000 1.000 1.000 1.000 1.000 1.000 1.000 1.000 1.000 1.000 1.000 1.000 1.000 1.000 1.000 1.000 1.000 0.938 0.875 0.812 0.750 0.688 0.625 0.562 0.500 0.438 0.375 0.312 0.250 0.188 0.125 0.062 0.000 0.000 0.000 0.000 0.000 0.000 0.000 0.000 0.000"/><feFuncB type="discrete" tableValues="0.562 0.625 0.688 0.750 0.812 0.875 0.938 1.000 1.000 1.000 1.000 1.000 1.000 1.000 1.000 1.000 1.000 1.000 1.000 1.000 1.000 1.000 1.000 1.000 0.938 0.875 0.812 0.750 0.688 0.625 0.562 0.500 0.438 0.375 0.312 0.250 0.188 0.125 0.062 0.000 0.000 0.000 0.000 0.000 0.000 0.000 0.000 0.000 0.000 0.000 0.000 0.000 0.000 0.000 0.000 0.000 0.000 0.000 0.000 0.000 0.000 0.000 0.000 0.000"/></feComponentTransfer></filter>
<radialGradient id="gd0" gradientUnits="userSpaceOnUse" cx="169.1" cy="171.0" r="300"><stop offset="0.0000" stop-color="rgb(189,189,189)"/><stop offset="0.0179" stop-color="rgb(188,188,188)"/><stop offset="0.0357" stop-color="rgb(185,185,185)"/><stop offset="0.0536" stop-color="rgb(179,179,179)"/><stop offset="0.0714" stop-color="rgb(173,173,173)"/><stop offset="0.0893" stop-color="rgb(164,164,164)"/><stop offset="0.1071" stop-color="rgb(155,155,155)"/><stop offset="0.1250" stop-color="rgb(144,144,144)"/><stop offset="0.1429" stop-color="rgb(133,133,133)"/><stop offset="0.1607" stop-color="rgb(122,122,122)"/><stop offset="0.1786" stop-color="rgb(110,110,110)"/><stop offset="0.1964" stop-color="rgb(99,99,99)"/><stop offset="0.2143" stop-color="rgb(88,88,88)"/><stop offset="0.2321" stop-color="rgb(78,78,78)"/><stop offset="0.2500" stop-color="rgb(69,69,69)"/><stop offset="0.2679" stop-color="rgb(60,60,60)"/><stop offset="0.2857" stop-color="rgb(52,52,52)"/><stop offset="0.3036" stop-color="rgb(45,45,45)"/><stop offset="0.3214" stop-color="rgb(39,39,39)"/><stop offset="0.3393" stop-color="rgb(33,33,33)"/><stop offset="0.3571" stop-color="rgb(29,29,29)"/><stop offset="0.3750" stop-color="rgb(24,24,24)"/><stop offset="0.3929" stop-color="rgb(21,21,21)"/><stop offset="0.4107" stop-color="rgb(18,18,18)"/><stop offset="0.4286" stop-color="rgb(15,15,15)"/><stop offset="0.4464" stop-color="rgb(13,13,13)"/><stop offset="0.4643" stop-color="rgb(11,11,11)"/><stop offset="0.4821" stop-color="rgb(9,9,9)"/><stop offset="0.5000" stop-color="rgb(8,8,8)"/><stop offset="0.5179" stop-color="rgb(6,6,6)"/><stop offset="0.5357" stop-color="rgb(5,5,5)"/><stop offset="0.5536" stop-color="rgb(4,4,4)"/><stop offset="0.5714" stop-color="rgb(4,4,4)"/><stop offset="0.5893" stop-color="rgb(3,3,3)"/><stop offset="0.6071" stop-color="rgb(3,3,3)"/><stop offset="0.6250" stop-color="rgb(2,2,2)"/><stop offset="0.6429" stop-color="rgb(2,2,2)"/><stop offset="0.6607" stop-color="rgb(1,1,1)"/><stop offset="0.6786" stop-color="rgb(1,1,1)"/><stop offset="0.6964" stop-color="rgb(1,1,1)"/><stop offset="0.7143" stop-color="rgb(1,1,1)"/><stop offset="0.7321" stop-color="rgb(1,1,1)"/><stop offset="0.7500" stop-color="rgb(0,0,0)"/><stop offset="0.7679" stop-color="rgb(0,0,0)"/><stop offset="0.7857" stop-color="rgb(0,0,0)"/><stop offset="0.8036" stop-color="rgb(0,0,0)"/><stop offset="0.8214" stop-color="rgb(0,0,0)"/><stop offset="0.8393" stop-color="rgb(0,0,0)"/><stop offset="0.8571" stop-color="rgb(0,0,0)"/><stop offset="0.8750" stop-color="rgb(0,0,0)"/><stop offset="0.8929" stop-color="rgb(0,0,0)"/><stop offset="0.9107" stop-color="rgb(0,0,0)"/><stop offset="0.9286" stop-color="rgb(0,0,0)"/><stop offset="0.9464" stop-color="rgb(0,0,0)"/><stop offset="0.9643" stop-color="rgb(0,0,0)"/><stop offset="0.9821" stop-color="rgb(0,0,0)"/><stop offset="1.0000" stop-color="rgb(0,0,0)"/></radialGradient>
<radialGradient id="gd1" gradientUnits="userSpaceOnUse" cx="164.1" cy="166.0" r="70" gradientTransform="translate(164.1,166.0) scale(1.100,0.900) translate(-164.1,-166.0)"><stop offset="0.0000" stop-color="#fff" stop-opacity="0.2000"/><stop offset="0.0312" stop-color="#fff" stop-opacity="0.1976"/><stop offset="0.0625" stop-color="#fff" stop-opacity="0.1907"/><stop offset="0.0938" stop-color="#fff" stop-opacity="0.1796"/><stop offset="0.1250" stop-color="#fff" stop-opacity="0.1652"/><stop offset="0.1562" stop-color="#fff" stop-opacity="0.1483"/><stop offset="0.1875" stop-color="#fff" stop-opacity="0.1300"/><stop offset="0.2188" stop-color="#fff" stop-opacity="0.1113"/><stop offset="0.2500" stop-color="#fff" stop-opacity="0.0930"/><stop offset="0.2812" stop-color="#fff" stop-opacity="0.0759"/><stop offset="0.3125" stop-color="#fff" stop-opacity="0.0605"/><stop offset="0.3438" stop-color="#fff" stop-opacity="0.0470"/><stop offset="0.3750" stop-color="#fff" stop-opacity="0.0357"/><stop offset="0.4062" stop-color="#fff" stop-opacity="0.0265"/><stop offset="0.4375" stop-color="#fff" stop-opacity="0.0192"/><stop offset="0.4688" stop-color="#fff" stop-opacity="0.0136"/><stop offset="0.5000" stop-color="#fff" stop-opacity="0.0094"/><stop offset="0.5312" stop-color="#fff" stop-opacity="0.0063"/><stop offset="0.5625" stop-color="#fff" stop-opacity="0.0041"/><stop offset="0.5938" stop-color="#fff" stop-opacity="0.0027"/><stop offset="0.6250" stop-color="#fff" stop-opacity="0.0017"/><stop offset="0.6562" stop-color="#fff" stop-opacity="0.0010"/><stop offset="0.6875" stop-color="#fff" stop-opacity="0.0006"/><stop offset="0.7188" stop-color="#fff" stop-opacity="0.0004"/><stop offset="0.7500" stop-color="#fff" stop-opacity="0.0002"/><stop offset="0.7812" stop-color="#fff" stop-opacity="0.0001"/><stop offset="0.8125" stop-color="#fff" stop-opacity="0.0001"/><stop offset="0.8438" stop-color="#fff" stop-opacity="0.0000"/><stop offset="0.8750" stop-color="#fff" stop-opacity="0.0000"/><stop offset="0.9062" stop-color="#fff" stop-opacity="0.0000"/><stop offset="0.9375" stop-color="#fff" stop-opacity="0.0000"/><stop offset="0.9688" stop-color="#fff" stop-opacity="0.0000"/><stop offset="1.0000" stop-color="#fff" stop-opacity="0.0000"/></radialGradient>
<filter id="jd" filterUnits="userSpaceOnUse" x="0" y="0" width="342.2" height="342.0" color-interpolation-filters="sRGB">
<feTurbulence type="fractalNoise" baseFrequency="0.140" numOctaves="2" seed="23" result="n"/>
<feColorMatrix in="n" type="matrix" values="1 0 0 0 0 1 0 0 0 0 1 0 0 0 0 0 0 0 0 1" result="ng0"/><feGaussianBlur in="ng0" stdDeviation="0.5" result="ng"/>
<feComposite in="SourceGraphic" in2="ng" operator="arithmetic" k1="1.240" k2="0.380" k3="0" k4="0.012" result="m"/>
<feComponentTransfer in="m"><feFuncR type="discrete" tableValues="0.000 0.000 0.000 0.000 0.000 0.000 0.000 0.000 0.000 0.000 0.000 0.000 0.000 0.000 0.000 0.000 0.000 0.000 0.000 0.000 0.000 0.000 0.000 0.000 0.062 0.125 0.188 0.250 0.312 0.375 0.438 0.500 0.562 0.625 0.688 0.750 0.812 0.875 0.938 1.000 1.000 1.000 1.000 1.000 1.000 1.000 1.000 1.000 1.000 1.000 1.000 1.000 1.000 1.000 1.000 1.000 0.938 0.875 0.812 0.750 0.688 0.625 0.562 0.500"/><feFuncG type="discrete" tableValues="0.000 0.000 0.000 0.000 0.000 0.000 0.000 0.000 0.062 0.125 0.188 0.250 0.312 0.375 0.438 0.500 0.562 0.625 0.688 0.750 0.812 0.875 0.938 1.000 1.000 1.000 1.000 1.000 1.000 1.000 1.000 1.000 1.000 1.000 1.000 1.000 1.000 1.000 1.000 1.000 0.938 0.875 0.812 0.750 0.688 0.625 0.562 0.500 0.438 0.375 0.312 0.250 0.188 0.125 0.062 0.000 0.000 0.000 0.000 0.000 0.000 0.000 0.000 0.000"/><feFuncB type="discrete" tableValues="0.562 0.625 0.688 0.750 0.812 0.875 0.938 1.000 1.000 1.000 1.000 1.000 1.000 1.000 1.000 1.000 1.000 1.000 1.000 1.000 1.000 1.000 1.000 1.000 0.938 0.875 0.812 0.750 0.688 0.625 0.562 0.500 0.438 0.375 0.312 0.250 0.188 0.125 0.062 0.000 0.000 0.000 0.000 0.000 0.000 0.000 0.000 0.000 0.000 0.000 0.000 0.000 0.000 0.000 0.000 0.000 0.000 0.000 0.000 0.000 0.000 0.000 0.000 0.000"/></feComponentTransfer></filter>
<radialGradient id="gh0" gradientUnits="userSpaceOnUse" cx="171.6" cy="171.0" r="280"><stop offset="0.0000" stop-color="rgb(255,255,255)"/><stop offset="0.0179" stop-color="rgb(254,254,254)"/><stop offset="0.0357" stop-color="rgb(250,250,250)"/><stop offset="0.0536" stop-color="rgb(244,244,244)"/><stop offset="0.0714" stop-color="rgb(235,235,235)"/><stop offset="0.0893" stop-color="rgb(225,225,225)"/><stop offset="0.1071" stop-color="rgb(213,213,213)"/><stop offset="0.1250" stop-color="rgb(200,200,200)"/><stop offset="0.1429" stop-color="rgb(185,185,185)"/><stop offset="0.1607" stop-color="rgb(171,171,171)"/><stop offset="0.1786" stop-color="rgb(155,155,155)"/><stop offset="0.1964" stop-color="rgb(140,140,140)"/><stop offset="0.2143" stop-color="rgb(126,126,126)"/><stop offset="0.2321" stop-color="rgb(111,111,111)"/><stop offset="0.2500" stop-color="rgb(98,98,98)"/><stop offset="0.2679" stop-color="rgb(86,86,86)"/><stop offset="0.2857" stop-color="rgb(74,74,74)"/><stop offset="0.3036" stop-color="rgb(64,64,64)"/><stop offset="0.3214" stop-color="rgb(55,55,55)"/><stop offset="0.3393" stop-color="rgb(47,47,47)"/><stop offset="0.3571" stop-color="rgb(40,40,40)"/><stop offset="0.3750" stop-color="rgb(34,34,34)"/><stop offset="0.3929" stop-color="rgb(28,28,28)"/><stop offset="0.4107" stop-color="rgb(24,24,24)"/><stop offset="0.4286" stop-color="rgb(20,20,20)"/><stop offset="0.4464" stop-color="rgb(17,17,17)"/><stop offset="0.4643" stop-color="rgb(15,15,15)"/><stop offset="0.4821" stop-color="rgb(13,13,13)"/><stop offset="0.5000" stop-color="rgb(11,11,11)"/><stop offset="0.5179" stop-color="rgb(10,10,10)"/><stop offset="0.5357" stop-color="rgb(9,9,9)"/><stop offset="0.5536" stop-color="rgb(8,8,8)"/><stop offset="0.5714" stop-color="rgb(7,7,7)"/><stop offset="0.5893" stop-color="rgb(6,6,6)"/><stop offset="0.6071" stop-color="rgb(6,6,6)"/><stop offset="0.6250" stop-color="rgb(5,5,5)"/><stop offset="0.6429" stop-color="rgb(5,5,5)"/><stop offset="0.6607" stop-color="rgb(5,5,5)"/><stop offset="0.6786" stop-color="rgb(5,5,5)"/><stop offset="0.6964" stop-color="rgb(4,4,4)"/><stop offset="0.7143" stop-color="rgb(4,4,4)"/><stop offset="0.7321" stop-color="rgb(4,4,4)"/><stop offset="0.7500" stop-color="rgb(4,4,4)"/><stop offset="0.7679" stop-color="rgb(4,4,4)"/><stop offset="0.7857" stop-color="rgb(4,4,4)"/><stop offset="0.8036" stop-color="rgb(4,4,4)"/><stop offset="0.8214" stop-color="rgb(3,3,3)"/><stop offset="0.8393" stop-color="rgb(3,3,3)"/><stop offset="0.8571" stop-color="rgb(3,3,3)"/><stop offset="0.8750" stop-color="rgb(3,3,3)"/><stop offset="0.8929" stop-color="rgb(3,3,3)"/><stop offset="0.9107" stop-color="rgb(3,3,3)"/><stop offset="0.9286" stop-color="rgb(3,3,3)"/><stop offset="0.9464" stop-color="rgb(3,3,3)"/><stop offset="0.9643" stop-color="rgb(3,3,3)"/><stop offset="0.9821" stop-color="rgb(3,3,3)"/><stop offset="1.0000" stop-color="rgb(3,3,3)"/></radialGradient>
<filter id="jh" filterUnits="userSpaceOnUse" x="0" y="0" width="342.2" height="342.0" color-interpolation-filters="sRGB">
<feComponentTransfer><feFuncR type="discrete" tableValues="0.000 0.000 0.000 0.000 0.000 0.000 0.000 0.000 0.000 0.000 0.000 0.000 0.000 0.000 0.000 0.000 0.000 0.000 0.000 0.000 0.000 0.000 0.000 0.000 0.062 0.125 0.188 0.250 0.312 0.375 0.438 0.500 0.562 0.625 0.688 0.750 0.812 0.875 0.938 1.000 1.000 1.000 1.000 1.000 1.000 1.000 1.000 1.000 1.000 1.000 1.000 1.000 1.000 1.000 1.000 1.000 0.938 0.875 0.812 0.750 0.688 0.625 0.562 0.500"/><feFuncG type="discrete" tableValues="0.000 0.000 0.000 0.000 0.000 0.000 0.000 0.000 0.062 0.125 0.188 0.250 0.312 0.375 0.438 0.500 0.562 0.625 0.688 0.750 0.812 0.875 0.938 1.000 1.000 1.000 1.000 1.000 1.000 1.000 1.000 1.000 1.000 1.000 1.000 1.000 1.000 1.000 1.000 1.000 0.938 0.875 0.812 0.750 0.688 0.625 0.562 0.500 0.438 0.375 0.312 0.250 0.188 0.125 0.062 0.000 0.000 0.000 0.000 0.000 0.000 0.000 0.000 0.000"/><feFuncB type="discrete" tableValues="0.562 0.625 0.688 0.750 0.812 0.875 0.938 1.000 1.000 1.000 1.000 1.000 1.000 1.000 1.000 1.000 1.000 1.000 1.000 1.000 1.000 1.000 1.000 1.000 0.938 0.875 0.812 0.750 0.688 0.625 0.562 0.500 0.438 0.375 0.312 0.250 0.188 0.125 0.062 0.000 0.000 0.000 0.000 0.000 0.000 0.000 0.000 0.000 0.000 0.000 0.000 0.000 0.000 0.000 0.000 0.000 0.000 0.000 0.000 0.000 0.000 0.000 0.000 0.000"/></feComponentTransfer></filter>
</defs>
<g transform="translate(51.30,17.95)">
<g filter="url(#jb)"><rect x="0" y="0" width="342.2" height="342.0" fill="rgb(0,0,0)"/>
<rect x="0" y="0" width="342.2" height="342.0" fill="url(#gb0)"/>
<rect x="0" y="0" width="342.2" height="342.0" fill="url(#gb1)"/>
</g>
<circle cx="171.1" cy="171.0" r="101.7" fill="none" stroke="#fff" stroke-opacity="0.52" stroke-width="1.05" stroke-dasharray="7 3.2"/>
<circle cx="171.1" cy="171.0" r="67.3" fill="none" stroke="#fff" stroke-opacity="0.52" stroke-width="1.05" stroke-dasharray="7 3.2"/>
<circle cx="171.1" cy="171.0" r="33.9" fill="none" stroke="#fff" stroke-opacity="0.52" stroke-width="1.05" stroke-dasharray="7 3.2"/>
<circle cx="171.1" cy="171.0" r="6.6" fill="none" stroke="#fff" stroke-opacity="0.52" stroke-width="1.05" stroke-dasharray="5 2.5"/>
<circle cx="171.1" cy="171.0" r="1.3" fill="#111"/>
<rect x="0" y="0" width="342.2" height="342.0" fill="none" stroke="#484848" stroke-width="0.9"/>
<path d="M5.2 342.0v-3.4M5.2 0v3.4M0 5.2h3.4M342.2 5.2h-3.4M60.5 342.0v-3.4M60.5 0v3.4M0 60.5h3.4M342.2 60.5h-3.4M115.8 342.0v-3.4M115.8 0v3.4M0 115.8h3.4M342.2 115.8h-3.4M171.1 342.0v-3.4M171.1 0v3.4M0 171.1h3.4M342.2 171.1h-3.4M226.4 342.0v-3.4M226.4 0v3.4M0 226.4h3.4M342.2 226.4h-3.4M281.7 342.0v-3.4M281.7 0v3.4M0 281.7h3.4M342.2 281.7h-3.4M337.0 342.0v-3.4M337.0 0v3.4M0 337.0h3.4M342.2 337.0h-3.4" stroke="#333" stroke-opacity="0.7" stroke-width="0.8" fill="none"/>
<text class="tk" x="5.2" y="358.4" text-anchor="middle">-0.3</text>
<text class="tk" x="-4.9" y="8.9" text-anchor="end">-0.3</text>
<text class="tk" x="60.5" y="358.4" text-anchor="middle">-0.2</text>
<text class="tk" x="-4.9" y="64.2" text-anchor="end">-0.2</text>
<text class="tk" x="115.8" y="358.4" text-anchor="middle">-0.1</text>
<text class="tk" x="-4.9" y="119.5" text-anchor="end">-0.1</text>
<text class="tk" x="171.1" y="358.4" text-anchor="middle">0</text>
<text class="tk" x="-4.9" y="174.8" text-anchor="end">0</text>
<text class="tk" x="226.4" y="358.4" text-anchor="middle">0.1</text>
<text class="tk" x="-4.9" y="230.1" text-anchor="end">0.1</text>
<text class="tk" x="281.7" y="358.4" text-anchor="middle">0.2</text>
<text class="tk" x="-4.9" y="285.4" text-anchor="end">0.2</text>
<text class="tk" x="337.0" y="358.4" text-anchor="middle">0.3</text>
<text class="tk" x="-4.9" y="340.7" text-anchor="end">0.3</text>
<text class="lb" x="171.1" y="374.5" text-anchor="middle">x/m</text>
<text class="lb" transform="translate(-32.5,171.0) rotate(-90)" text-anchor="middle">y/m</text>
<text class="ti" x="4.0" y="12.0">Centroid(-0.451<tspan class="mu" dx="1.2">μ</tspan><tspan dx="1">rad,-0.6147</tspan><tspan class="mu" dx="1.2">μ</tspan><tspan dx="1">rad)</tspan></text>
<rect x="354" y="0" width="17.5" height="342.0" fill="url(#cb)" stroke="#484848" stroke-width="0.9"/>
<text class="ck" x="375.2" y="311.9">0.1</text>
<text class="ck" x="375.2" y="277.7">0.2</text>
<text class="ck" x="375.2" y="243.6">0.3</text>
<text class="ck" x="375.2" y="209.4">0.4</text>
<text class="ck" x="375.2" y="175.2">0.5</text>
<text class="ck" x="375.2" y="141.1">0.6</text>
<text class="ck" x="375.2" y="107.0">0.7</text>
<text class="ck" x="375.2" y="72.8">0.8</text>
<text class="ck" x="375.2" y="38.7">0.9</text>
<text class="ck" x="375.2" y="5.3">1</text>
<path d="M371.5 307.9h-3.2M371.5 273.7h-3.2M371.5 239.6h-3.2M371.5 205.4h-3.2M371.5 171.2h-3.2M371.5 137.1h-3.2M371.5 103.0h-3.2M371.5 68.8h-3.2M371.5 34.7h-3.2" stroke="#333" stroke-width="0.8" fill="none"/>
</g>
<g transform="translate(515.35,17.95)">
<g filter="url(#jf)"><rect x="0" y="0" width="342.2" height="342.0" fill="rgb(0,0,0)"/>
<rect x="0" y="0" width="342.2" height="342.0" fill="url(#gf0)"/>
</g>
<circle cx="171.1" cy="171.0" r="101.7" fill="none" stroke="#fff" stroke-opacity="0.52" stroke-width="1.05" stroke-dasharray="7 3.2"/>
<circle cx="171.1" cy="171.0" r="67.3" fill="none" stroke="#fff" stroke-opacity="0.52" stroke-width="1.05" stroke-dasharray="7 3.2"/>
<circle cx="171.1" cy="171.0" r="33.9" fill="none" stroke="#fff" stroke-opacity="0.52" stroke-width="1.05" stroke-dasharray="7 3.2"/>
<circle cx="171.1" cy="171.0" r="6.6" fill="none" stroke="#fff" stroke-opacity="0.52" stroke-width="1.05" stroke-dasharray="5 2.5"/>
<circle cx="171.1" cy="171.0" r="1.3" fill="#111"/>
<rect x="0" y="0" width="342.2" height="342.0" fill="none" stroke="#484848" stroke-width="0.9"/>
<path d="M5.2 342.0v-3.4M5.2 0v3.4M0 5.2h3.4M342.2 5.2h-3.4M60.5 342.0v-3.4M60.5 0v3.4M0 60.5h3.4M342.2 60.5h-3.4M115.8 342.0v-3.4M115.8 0v3.4M0 115.8h3.4M342.2 115.8h-3.4M171.1 342.0v-3.4M171.1 0v3.4M0 171.1h3.4M342.2 171.1h-3.4M226.4 342.0v-3.4M226.4 0v3.4M0 226.4h3.4M342.2 226.4h-3.4M281.7 342.0v-3.4M281.7 0v3.4M0 281.7h3.4M342.2 281.7h-3.4M337.0 342.0v-3.4M337.0 0v3.4M0 337.0h3.4M342.2 337.0h-3.4" stroke="#333" stroke-opacity="0.7" stroke-width="0.8" fill="none"/>
<text class="tk" x="5.2" y="358.4" text-anchor="middle">-0.3</text>
<text class="tk" x="-4.9" y="8.9" text-anchor="end">-0.3</text>
<text class="tk" x="60.5" y="358.4" text-anchor="middle">-0.2</text>
<text class="tk" x="-4.9" y="64.2" text-anchor="end">-0.2</text>
<text class="tk" x="115.8" y="358.4" text-anchor="middle">-0.1</text>
<text class="tk" x="-4.9" y="119.5" text-anchor="end">-0.1</text>
<text class="tk" x="171.1" y="358.4" text-anchor="middle">0</text>
<text class="tk" x="-4.9" y="174.8" text-anchor="end">0</text>
<text class="tk" x="226.4" y="358.4" text-anchor="middle">0.1</text>
<text class="tk" x="-4.9" y="230.1" text-anchor="end">0.1</text>
<text class="tk" x="281.7" y="358.4" text-anchor="middle">0.2</text>
<text class="tk" x="-4.9" y="285.4" text-anchor="end">0.2</text>
<text class="tk" x="337.0" y="358.4" text-anchor="middle">0.3</text>
<text class="tk" x="-4.9" y="340.7" text-anchor="end">0.3</text>
<text class="lb" x="171.1" y="374.5" text-anchor="middle">x/m</text>
<text class="lb" transform="translate(-32.5,171.0) rotate(-90)" text-anchor="middle">y/m</text>
<text class="ti" x="4.0" y="12.0">Centroid(-0.0047838<tspan class="mu" dx="1.2">μ</tspan><tspan dx="1">rad,-0.0047838</tspan><tspan class="mu" dx="1.2">μ</tspan><tspan dx="1">rad)</tspan></text>
<rect x="354" y="0" width="17.5" height="342.0" fill="url(#cb)" stroke="#484848" stroke-width="0.9"/>
<text class="ck" x="375.2" y="311.9">0.1</text>
<text class="ck" x="375.2" y="277.7">0.2</text>
<text class="ck" x="375.2" y="243.6">0.3</text>
<text class="ck" x="375.2" y="209.4">0.4</text>
<text class="ck" x="375.2" y="175.2">0.5</text>
<text class="ck" x="375.2" y="141.1">0.6</text>
<text class="ck" x="375.2" y="107.0">0.7</text>
<text class="ck" x="375.2" y="72.8">0.8</text>
<text class="ck" x="375.2" y="38.7">0.9</text>
<text class="ck" x="375.2" y="5.3">1</text>
<path d="M371.5 307.9h-3.2M371.5 273.7h-3.2M371.5 239.6h-3.2M371.5 205.4h-3.2M371.5 171.2h-3.2M371.5 137.1h-3.2M371.5 103.0h-3.2M371.5 68.8h-3.2M371.5 34.7h-3.2" stroke="#333" stroke-width="0.8" fill="none"/>
</g>
<g transform="translate(51.90,449.35)">
<g filter="url(#jc)"><rect x="0" y="0" width="342.2" height="342.0" fill="rgb(0,0,0)"/>
<rect x="0" y="0" width="342.2" height="342.0" fill="url(#gc0)"/>
<rect x="0" y="0" width="342.2" height="342.0" fill="url(#gc1)"/>
<rect x="0" y="0" width="342.2" height="342.0" fill="url(#gc2)"/>
</g>
<circle cx="171.1" cy="171.0" r="101.7" fill="none" stroke="#fff" stroke-opacity="0.52" stroke-width="1.05" stroke-dasharray="7 3.2"/>
<circle cx="171.1" cy="171.0" r="67.3" fill="none" stroke="#fff" stroke-opacity="0.52" stroke-width="1.05" stroke-dasharray="7 3.2"/>
<circle cx="171.1" cy="171.0" r="33.9" fill="none" stroke="#fff" stroke-opacity="0.52" stroke-width="1.05" stroke-dasharray="7 3.2"/>
<circle cx="171.1" cy="171.0" r="6.6" fill="none" stroke="#fff" stroke-opacity="0.52" stroke-width="1.05" stroke-dasharray="5 2.5"/>
<circle cx="171.1" cy="171.0" r="1.3" fill="#111"/>
<rect x="0" y="0" width="342.2" height="342.0" fill="none" stroke="#484848" stroke-width="0.9"/>
<path d="M5.2 342.0v-3.4M5.2 0v3.4M0 5.2h3.4M342.2 5.2h-3.4M60.5 342.0v-3.4M60.5 0v3.4M0 60.5h3.4M342.2 60.5h-3.4M115.8 342.0v-3.4M115.8 0v3.4M0 115.8h3.4M342.2 115.8h-3.4M171.1 342.0v-3.4M171.1 0v3.4M0 171.1h3.4M342.2 171.1h-3.4M226.4 342.0v-3.4M226.4 0v3.4M0 226.4h3.4M342.2 226.4h-3.4M281.7 342.0v-3.4M281.7 0v3.4M0 281.7h3.4M342.2 281.7h-3.4M337.0 342.0v-3.4M337.0 0v3.4M0 337.0h3.4M342.2 337.0h-3.4" stroke="#333" stroke-opacity="0.7" stroke-width="0.8" fill="none"/>
<text class="tk" x="5.2" y="358.4" text-anchor="middle">-0.3</text>
<text class="tk" x="-4.9" y="8.9" text-anchor="end">-0.3</text>
<text class="tk" x="60.5" y="358.4" text-anchor="middle">-0.2</text>
<text class="tk" x="-4.9" y="64.2" text-anchor="end">-0.2</text>
<text class="tk" x="115.8" y="358.4" text-anchor="middle">-0.1</text>
<text class="tk" x="-4.9" y="119.5" text-anchor="end">-0.1</text>
<text class="tk" x="171.1" y="358.4" text-anchor="middle">0</text>
<text class="tk" x="-4.9" y="174.8" text-anchor="end">0</text>
<text class="tk" x="226.4" y="358.4" text-anchor="middle">0.1</text>
<text class="tk" x="-4.9" y="230.1" text-anchor="end">0.1</text>
<text class="tk" x="281.7" y="358.4" text-anchor="middle">0.2</text>
<text class="tk" x="-4.9" y="285.4" text-anchor="end">0.2</text>
<text class="tk" x="337.0" y="358.4" text-anchor="middle">0.3</text>
<text class="tk" x="-4.9" y="340.7" text-anchor="end">0.3</text>
<text class="lb" x="171.1" y="374.5" text-anchor="middle">x/m</text>
<text class="lb" transform="translate(-32.5,171.0) rotate(-90)" text-anchor="middle">y/m</text>
<text class="ti" x="4.0" y="12.0">Centroid(0.66612<tspan class="mu" dx="1.2">μ</tspan><tspan dx="1">rad,0.051245</tspan><tspan class="mu" dx="1.2">μ</tspan><tspan dx="1">rad)</tspan></text>
<rect x="354" y="0" width="17.5" height="342.0" fill="url(#cb)" stroke="#484848" stroke-width="0.9"/>
<text class="ck" x="375.2" y="311.9">0.1</text>
<text class="ck" x="375.2" y="277.7">0.2</text>
<text class="ck" x="375.2" y="243.6">0.3</text>
<text class="ck" x="375.2" y="209.4">0.4</text>
<text class="ck" x="375.2" y="175.2">0.5</text>
<text class="ck" x="375.2" y="141.1">0.6</text>
<text class="ck" x="375.2" y="107.0">0.7</text>
<text class="ck" x="375.2" y="72.8">0.8</text>
<text class="ck" x="375.2" y="38.7">0.9</text>
<text class="ck" x="375.2" y="5.3">1</text>
<path d="M371.5 307.9h-3.2M371.5 273.7h-3.2M371.5 239.6h-3.2M371.5 205.4h-3.2M371.5 171.2h-3.2M371.5 137.1h-3.2M371.5 103.0h-3.2M371.5 68.8h-3.2M371.5 34.7h-3.2" stroke="#333" stroke-width="0.8" fill="none"/>
</g>
<g transform="translate(513.65,449.45)">
<g filter="url(#jg)"><rect x="0" y="0" width="342.2" height="342.0" fill="rgb(0,0,0)"/>
<rect x="0" y="0" width="342.2" height="342.0" fill="url(#gg0)"/>
<rect x="0" y="0" width="342.2" height="342.0" fill="url(#gg1)"/>
</g>
<circle cx="171.1" cy="171.0" r="101.7" fill="none" stroke="#fff" stroke-opacity="0.52" stroke-width="1.05" stroke-dasharray="7 3.2"/>
<circle cx="171.1" cy="171.0" r="67.3" fill="none" stroke="#fff" stroke-opacity="0.52" stroke-width="1.05" stroke-dasharray="7 3.2"/>
<circle cx="171.1" cy="171.0" r="33.9" fill="none" stroke="#fff" stroke-opacity="0.52" stroke-width="1.05" stroke-dasharray="7 3.2"/>
<circle cx="171.1" cy="171.0" r="6.6" fill="none" stroke="#fff" stroke-opacity="0.52" stroke-width="1.05" stroke-dasharray="5 2.5"/>
<circle cx="171.1" cy="171.0" r="1.3" fill="#111"/>
<rect x="0" y="0" width="342.2" height="342.0" fill="none" stroke="#484848" stroke-width="0.9"/>
<path d="M5.2 342.0v-3.4M5.2 0v3.4M0 5.2h3.4M342.2 5.2h-3.4M60.5 342.0v-3.4M60.5 0v3.4M0 60.5h3.4M342.2 60.5h-3.4M115.8 342.0v-3.4M115.8 0v3.4M0 115.8h3.4M342.2 115.8h-3.4M171.1 342.0v-3.4M171.1 0v3.4M0 171.1h3.4M342.2 171.1h-3.4M226.4 342.0v-3.4M226.4 0v3.4M0 226.4h3.4M342.2 226.4h-3.4M281.7 342.0v-3.4M281.7 0v3.4M0 281.7h3.4M342.2 281.7h-3.4M337.0 342.0v-3.4M337.0 0v3.4M0 337.0h3.4M342.2 337.0h-3.4" stroke="#333" stroke-opacity="0.7" stroke-width="0.8" fill="none"/>
<text class="tk" x="5.2" y="358.4" text-anchor="middle">-0.3</text>
<text class="tk" x="-4.9" y="8.9" text-anchor="end">-0.3</text>
<text class="tk" x="60.5" y="358.4" text-anchor="middle">-0.2</text>
<text class="tk" x="-4.9" y="64.2" text-anchor="end">-0.2</text>
<text class="tk" x="115.8" y="358.4" text-anchor="middle">-0.1</text>
<text class="tk" x="-4.9" y="119.5" text-anchor="end">-0.1</text>
<text class="tk" x="171.1" y="358.4" text-anchor="middle">0</text>
<text class="tk" x="-4.9" y="174.8" text-anchor="end">0</text>
<text class="tk" x="226.4" y="358.4" text-anchor="middle">0.1</text>
<text class="tk" x="-4.9" y="230.1" text-anchor="end">0.1</text>
<text class="tk" x="281.7" y="358.4" text-anchor="middle">0.2</text>
<text class="tk" x="-4.9" y="285.4" text-anchor="end">0.2</text>
<text class="tk" x="337.0" y="358.4" text-anchor="middle">0.3</text>
<text class="tk" x="-4.9" y="340.7" text-anchor="end">0.3</text>
<text class="lb" x="171.1" y="374.5" text-anchor="middle">x/m</text>
<text class="lb" transform="translate(-32.5,171.0) rotate(-90)" text-anchor="middle">y/m</text>
<text class="ti" x="4.0" y="12.0">Centroid(0.9048<tspan class="mu" dx="1.2">μ</tspan><tspan dx="1">rad,0.28266</tspan><tspan class="mu" dx="1.2">μ</tspan><tspan dx="1">rad)</tspan></text>
<rect x="354" y="0" width="17.5" height="342.0" fill="url(#cb)" stroke="#484848" stroke-width="0.9"/>
<text class="ck" x="375.2" y="311.9">0.1</text>
<text class="ck" x="375.2" y="277.7">0.2</text>
<text class="ck" x="375.2" y="243.6">0.3</text>
<text class="ck" x="375.2" y="209.4">0.4</text>
<text class="ck" x="375.2" y="175.2">0.5</text>
<text class="ck" x="375.2" y="141.1">0.6</text>
<text class="ck" x="375.2" y="107.0">0.7</text>
<text class="ck" x="375.2" y="72.8">0.8</text>
<text class="ck" x="375.2" y="38.7">0.9</text>
<text class="ck" x="375.2" y="5.3">1</text>
<path d="M371.5 307.9h-3.2M371.5 273.7h-3.2M371.5 239.6h-3.2M371.5 205.4h-3.2M371.5 171.2h-3.2M371.5 137.1h-3.2M371.5 103.0h-3.2M371.5 68.8h-3.2M371.5 34.7h-3.2" stroke="#333" stroke-width="0.8" fill="none"/>
</g>
<g transform="translate(50.70,879.00)">
<g filter="url(#jd)"><rect x="0" y="0" width="342.2" height="342.0" fill="rgb(0,0,0)"/>
<rect x="0" y="0" width="342.2" height="342.0" fill="url(#gd0)"/>
<rect x="0" y="0" width="342.2" height="342.0" fill="url(#gd1)"/>
</g>
<circle cx="171.1" cy="171.0" r="101.7" fill="none" stroke="#fff" stroke-opacity="0.52" stroke-width="1.05" stroke-dasharray="7 3.2"/>
<circle cx="171.1" cy="171.0" r="67.3" fill="none" stroke="#fff" stroke-opacity="0.52" stroke-width="1.05" stroke-dasharray="7 3.2"/>
<circle cx="171.1" cy="171.0" r="33.9" fill="none" stroke="#fff" stroke-opacity="0.52" stroke-width="1.05" stroke-dasharray="7 3.2"/>
<circle cx="171.1" cy="171.0" r="6.6" fill="none" stroke="#fff" stroke-opacity="0.52" stroke-width="1.05" stroke-dasharray="5 2.5"/>
<circle cx="171.1" cy="171.0" r="1.3" fill="#111"/>
<rect x="0" y="0" width="342.2" height="342.0" fill="none" stroke="#484848" stroke-width="0.9"/>
<path d="M5.2 342.0v-3.4M5.2 0v3.4M0 5.2h3.4M342.2 5.2h-3.4M60.5 342.0v-3.4M60.5 0v3.4M0 60.5h3.4M342.2 60.5h-3.4M115.8 342.0v-3.4M115.8 0v3.4M0 115.8h3.4M342.2 115.8h-3.4M171.1 342.0v-3.4M171.1 0v3.4M0 171.1h3.4M342.2 171.1h-3.4M226.4 342.0v-3.4M226.4 0v3.4M0 226.4h3.4M342.2 226.4h-3.4M281.7 342.0v-3.4M281.7 0v3.4M0 281.7h3.4M342.2 281.7h-3.4M337.0 342.0v-3.4M337.0 0v3.4M0 337.0h3.4M342.2 337.0h-3.4" stroke="#333" stroke-opacity="0.7" stroke-width="0.8" fill="none"/>
<text class="tk" x="5.2" y="358.4" text-anchor="middle">-0.3</text>
<text class="tk" x="-4.9" y="8.9" text-anchor="end">-0.3</text>
<text class="tk" x="60.5" y="358.4" text-anchor="middle">-0.2</text>
<text class="tk" x="-4.9" y="64.2" text-anchor="end">-0.2</text>
<text class="tk" x="115.8" y="358.4" text-anchor="middle">-0.1</text>
<text class="tk" x="-4.9" y="119.5" text-anchor="end">-0.1</text>
<text class="tk" x="171.1" y="358.4" text-anchor="middle">0</text>
<text class="tk" x="-4.9" y="174.8" text-anchor="end">0</text>
<text class="tk" x="226.4" y="358.4" text-anchor="middle">0.1</text>
<text class="tk" x="-4.9" y="230.1" text-anchor="end">0.1</text>
<text class="tk" x="281.7" y="358.4" text-anchor="middle">0.2</text>
<text class="tk" x="-4.9" y="285.4" text-anchor="end">0.2</text>
<text class="tk" x="337.0" y="358.4" text-anchor="middle">0.3</text>
<text class="tk" x="-4.9" y="340.7" text-anchor="end">0.3</text>
<text class="lb" x="171.1" y="374.5" text-anchor="middle">x/m</text>
<text class="lb" transform="translate(-32.5,171.0) rotate(-90)" text-anchor="middle">y/m</text>
<text class="ti" x="4.0" y="12.0">Centroid(0.27385<tspan class="mu" dx="1.2">μ</tspan><tspan dx="1">rad,-0.35276</tspan><tspan class="mu" dx="1.2">μ</tspan><tspan dx="1">rad)</tspan></text>
<rect x="354" y="0" width="17.5" height="342.0" fill="url(#cb)" stroke="#484848" stroke-width="0.9"/>
<text class="ck" x="375.2" y="311.9">0.1</text>
<text class="ck" x="375.2" y="277.7">0.2</text>
<text class="ck" x="375.2" y="243.6">0.3</text>
<text class="ck" x="375.2" y="209.4">0.4</text>
<text class="ck" x="375.2" y="175.2">0.5</text>
<text class="ck" x="375.2" y="141.1">0.6</text>
<text class="ck" x="375.2" y="107.0">0.7</text>
<text class="ck" x="375.2" y="72.8">0.8</text>
<text class="ck" x="375.2" y="38.7">0.9</text>
<text class="ck" x="375.2" y="5.3">1</text>
<path d="M371.5 307.9h-3.2M371.5 273.7h-3.2M371.5 239.6h-3.2M371.5 205.4h-3.2M371.5 171.2h-3.2M371.5 137.1h-3.2M371.5 103.0h-3.2M371.5 68.8h-3.2M371.5 34.7h-3.2" stroke="#333" stroke-width="0.8" fill="none"/>
</g>
<g transform="translate(514.65,880.10)">
<g filter="url(#jh)"><rect x="0" y="0" width="342.2" height="342.0" fill="rgb(0,0,0)"/>
<rect x="0" y="0" width="342.2" height="342.0" fill="url(#gh0)"/>
</g>
<circle cx="171.6" cy="171.0" r="101.7" fill="none" stroke="#fff" stroke-opacity="0.52" stroke-width="1.05" stroke-dasharray="7 3.2"/>
<circle cx="171.6" cy="171.0" r="67.3" fill="none" stroke="#fff" stroke-opacity="0.52" stroke-width="1.05" stroke-dasharray="7 3.2"/>
<circle cx="171.6" cy="171.0" r="33.9" fill="none" stroke="#fff" stroke-opacity="0.52" stroke-width="1.05" stroke-dasharray="7 3.2"/>
<circle cx="171.6" cy="171.0" r="6.6" fill="none" stroke="#fff" stroke-opacity="0.52" stroke-width="1.05" stroke-dasharray="5 2.5"/>
<circle cx="171.6" cy="171.0" r="1.3" fill="#111"/>
<rect x="0" y="0" width="342.2" height="342.0" fill="none" stroke="#484848" stroke-width="0.9"/>
<path d="M5.2 342.0v-3.4M5.2 0v3.4M0 5.2h3.4M342.2 5.2h-3.4M60.5 342.0v-3.4M60.5 0v3.4M0 60.5h3.4M342.2 60.5h-3.4M115.8 342.0v-3.4M115.8 0v3.4M0 115.8h3.4M342.2 115.8h-3.4M171.1 342.0v-3.4M171.1 0v3.4M0 171.1h3.4M342.2 171.1h-3.4M226.4 342.0v-3.4M226.4 0v3.4M0 226.4h3.4M342.2 226.4h-3.4M281.7 342.0v-3.4M281.7 0v3.4M0 281.7h3.4M342.2 281.7h-3.4M337.0 342.0v-3.4M337.0 0v3.4M0 337.0h3.4M342.2 337.0h-3.4" stroke="#333" stroke-opacity="0.7" stroke-width="0.8" fill="none"/>
<text class="tk" x="5.2" y="358.4" text-anchor="middle">-0.3</text>
<text class="tk" x="-4.9" y="8.9" text-anchor="end">-0.3</text>
<text class="tk" x="60.5" y="358.4" text-anchor="middle">-0.2</text>
<text class="tk" x="-4.9" y="64.2" text-anchor="end">-0.2</text>
<text class="tk" x="115.8" y="358.4" text-anchor="middle">-0.1</text>
<text class="tk" x="-4.9" y="119.5" text-anchor="end">-0.1</text>
<text class="tk" x="171.1" y="358.4" text-anchor="middle">0</text>
<text class="tk" x="-4.9" y="174.8" text-anchor="end">0</text>
<text class="tk" x="226.4" y="358.4" text-anchor="middle">0.1</text>
<text class="tk" x="-4.9" y="230.1" text-anchor="end">0.1</text>
<text class="tk" x="281.7" y="358.4" text-anchor="middle">0.2</text>
<text class="tk" x="-4.9" y="285.4" text-anchor="end">0.2</text>
<text class="tk" x="337.0" y="358.4" text-anchor="middle">0.3</text>
<text class="tk" x="-4.9" y="340.7" text-anchor="end">0.3</text>
<text class="lb" x="171.1" y="374.5" text-anchor="middle">x/m</text>
<text class="lb" transform="translate(-32.5,171.0) rotate(-90)" text-anchor="middle">y/m</text>
<text class="ti" x="4.0" y="12.0">Centroid(0.89129<tspan class="mu" dx="1.2">μ</tspan><tspan dx="1">rad,0.27676</tspan><tspan class="mu" dx="1.2">μ</tspan><tspan dx="1">rad)</tspan></text>
<rect x="354" y="0" width="17.5" height="342.0" fill="url(#cb)" stroke="#484848" stroke-width="0.9"/>
<text class="ck" x="375.2" y="311.9">0.1</text>
<text class="ck" x="375.2" y="277.7">0.2</text>
<text class="ck" x="375.2" y="243.6">0.3</text>
<text class="ck" x="375.2" y="209.4">0.4</text>
<text class="ck" x="375.2" y="175.2">0.5</text>
<text class="ck" x="375.2" y="141.1">0.6</text>
<text class="ck" x="375.2" y="107.0">0.7</text>
<text class="ck" x="375.2" y="72.8">0.8</text>
<text class="ck" x="375.2" y="38.7">0.9</text>
<text class="ck" x="375.2" y="5.3">1</text>
<path d="M371.5 307.9h-3.2M371.5 273.7h-3.2M371.5 239.6h-3.2M371.5 205.4h-3.2M371.5 171.2h-3.2M371.5 137.1h-3.2M371.5 103.0h-3.2M371.5 68.8h-3.2M371.5 34.7h-3.2" stroke="#333" stroke-width="0.8" fill="none"/>
</g>
<text class="cap" x="225.2" y="428.5" text-anchor="middle">(<tspan>b</tspan>)</text>
<text class="cap" x="688.0" y="428.4" text-anchor="middle">(<tspan>f</tspan>)</text>
<text class="cap" x="225.3" y="858.3" text-anchor="middle">(<tspan>c</tspan>)</text>
<text class="cap" x="688.4" y="858.3" text-anchor="middle">(<tspan>g</tspan>)</text>
<text class="cap" x="225.2" y="1288.6" text-anchor="middle">(<tspan>d</tspan>)</text>
<text class="cap" x="688.5" y="1288.6" text-anchor="middle">(<tspan>h</tspan>)</text>
</svg></body></html>
